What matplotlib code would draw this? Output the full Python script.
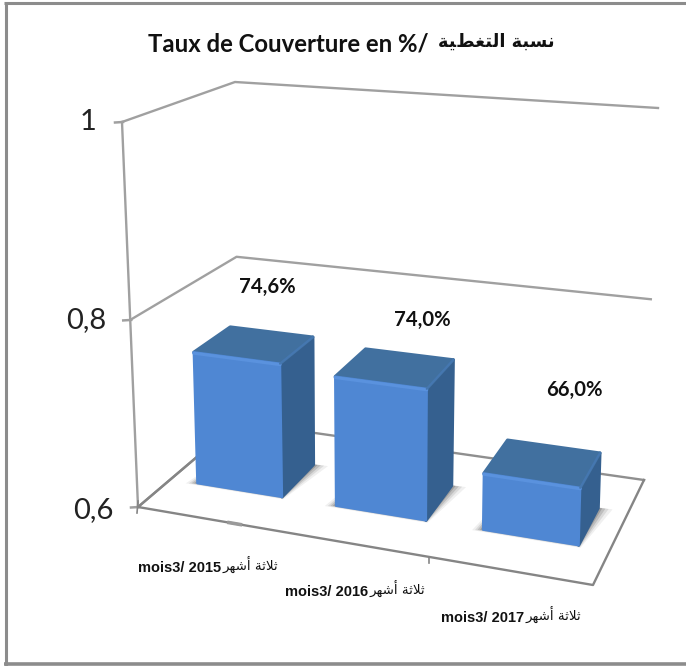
import numpy as np
import matplotlib
matplotlib.use('Agg')
import matplotlib.pyplot as plt
from matplotlib.patches import Polygon

values = [0.746, 0.740, 0.660]
years = ['2015', '2016', '2017']
yticks = [0.6, 0.8, 1.0]
ytick_labels = ['0,6', '0,8', '1']

# arabic is written in presentation forms, reversed because matplotlib does no shaping
title_ar = '\ufee7\ufeb4\ufe92\ufe94 \ufe8d\ufedf\ufe98\ufed0\ufec2\ufef4\ufe94'[::-1]
cat_ar = '\ufe9b\ufefc\ufe9b\ufe94 \ufe83\ufeb7\ufeec\ufeae'[::-1]

# corners of the 3d box in pixels: front left, front right, back right, back left
floor = np.array([[138, 507], [593, 585], [644, 480], [238, 422]], float)
ceil = np.array([[122, 122], [605, 164], [658, 108], [235, 82]], float)

bar_left = [0.06, 0.376, 0.711]
bar_width = [0.193, 0.205, 0.218]
v_front = 0.33
v_back = 0.69


def project(u, v, val):
    t = (val - 0.6) / 0.4
    t = t / (1 + 0.058 * (1 - t))  # slight perspective on the height
    weights = np.array([(1-u)*(1-v), u*(1-v), u*v, (1-u)*v])
    return (1-t) * weights @ floor + t * weights @ ceil


fig = plt.figure(figsize=(6.86, 6.66), dpi=100)
ax = fig.add_axes([0, 0, 1, 1])
ax.set_xlim(0, 686)
ax.set_ylim(666, 0)
ax.axis('off')

# outer frame
frame = '#8c8c8c'
ax.plot([5.5, 5.5], [2.5, 666], color=frame, lw=2.2, solid_capstyle='butt')
ax.plot([4, 686], [2.5, 2.5], color=frame, lw=2.2, solid_capstyle='butt')
ax.plot([4, 686], [663.5, 663.5], color=frame, lw=2.6, solid_capstyle='butt')

# walls and grid
wall = '#a0a0a0'
for val in yticks:
    a, d, c = project(0, 0, val), project(0, 1, val), project(1, 1, val)
    ax.plot([a[0], d[0], c[0]], [a[1], d[1], c[1]], color=wall if val > 0.6 else '#8f8f8f', lw=1.7, zorder=1)
    ax.plot([a[0] - 7, a[0] + 1], [a[1] + 0.5, a[1]], color=wall, lw=1.8, zorder=1)
a, top = project(0, 0, 0.6), project(0, 0, 1.0)
ax.plot([a[0], top[0]], [a[1], top[1]], color=wall, lw=1.7, zorder=1)

# floor edges
pts = np.array([project(0, 1, 0.6), project(0, 0, 0.6), project(1, 0, 0.6), project(1, 1, 0.6)])
ax.plot(pts[:, 0], pts[:, 1], color='#858585', lw=1.7, zorder=1)
p = project(0.64, 0, 0.6)
ax.plot([p[0], p[0]], [p[1], p[1] + 6], color='#858585', lw=1.2, zorder=1)
p = project(0, 0, 0.6)
ax.plot([p[0], p[0] - 1], [p[1] - 6, p[1] + 6], color='#858585', lw=1.2, zorder=1)
p1, p2 = project(0.2, 0, 0.6), project(0.225, 0, 0.6)
ax.plot([p1[0], p2[0]], [p1[1], p2[1]], color='#9a9a9a', lw=2.6, zorder=1)

# bars
for left, w, val in zip(bar_left, bar_width, values):
    right = left + w
    # soft shadow on the floor
    for e, al in zip([0.022, 0.016, 0.011, 0.006], [0.08, 0.12, 0.18, 0.25]):
        shadow = [project(left - e * 1.0, v_front - e * 0.9, 0.6), project(right + e * 0.3, v_front - e * 0.9, 0.6),
                  project(right + e * 1.5, v_back + e * 0.3, 0.6), project(left, v_back, 0.6)]
        ax.add_patch(Polygon(shadow, closed=True, fc='#404040', ec='none', alpha=al, zorder=2))

    fbl, fbr = project(left, v_front, 0.6), project(right, v_front, 0.6)
    bbr = project(right, v_back, 0.6)
    ftl, ftr = project(left, v_front, val), project(right, v_front, val)
    btl, btr = project(left, v_back, val), project(right, v_back, val)

    ax.add_patch(Polygon([ftr, btr, bbr, fbr], closed=True, fc='#35608f', ec='#35608f', lw=2.2, joinstyle='round', zorder=3))
    ax.add_patch(Polygon([ftl, btl, btr, ftr], closed=True, fc='#41709f', ec='#41709f', lw=2.2, joinstyle='round', zorder=3))
    ax.add_patch(Polygon([ftl, ftr, fbr, fbl], closed=True, fc='#4f87d3', ec='#4f87d3', lw=1.6, joinstyle='round', zorder=4))
    # bevel highlights
    ax.plot([ftl[0], ftr[0]], [ftl[1] + 1, ftr[1] + 1], color='#5a92de', lw=2.2, solid_capstyle='round', zorder=5)
    ax.plot([ftr[0], btr[0]], [ftr[1], btr[1]], color='#4577b0', lw=1.6, solid_capstyle='round', zorder=5)

# texts
font = 'Lato'
ax.text(148, 44, 'Taux de Couverture en %/', family=font, weight='bold', fontsize=17.2, ha='left', va='center', color='#111111')
ax.text(555, 42, title_ar, family='DejaVu Sans', weight='bold', fontsize=12.8, ha='right', va='center', color='#111111')

tick_right = [113, 106, 97]
tick_y = [510, 320, 122]
for lab, x, y in zip(ytick_labels, tick_right, tick_y):
    ax.text(x, y, lab, family=font, fontsize=21, ha='right', va='center', color='#222222')

label_x = [267, 422, 574]
label_y = [287, 320, 390]
for val, x, y in zip(values, label_x, label_y):
    ax.text(x, y, '{:.1f}%'.format(val * 100).replace('.', ','), family=font, weight='bold', fontsize=14.6,
            ha='center', va='center', color='#111111')

cat_x = [138, 285, 441]
cat_y = [568, 592, 618]
for year, x, y in zip(years, cat_x, cat_y):
    ax.text(x, y, 'mois3/ ' + year, family='Liberation Sans', weight='bold', fontsize=10.5, ha='left', va='center', color='#111111')
    ax.text(x + 140, y - 3, cat_ar, family='DejaVu Sans', fontsize=9.6, ha='right', va='center', color='#111111')

fig.savefig('out.png', dpi=100)
